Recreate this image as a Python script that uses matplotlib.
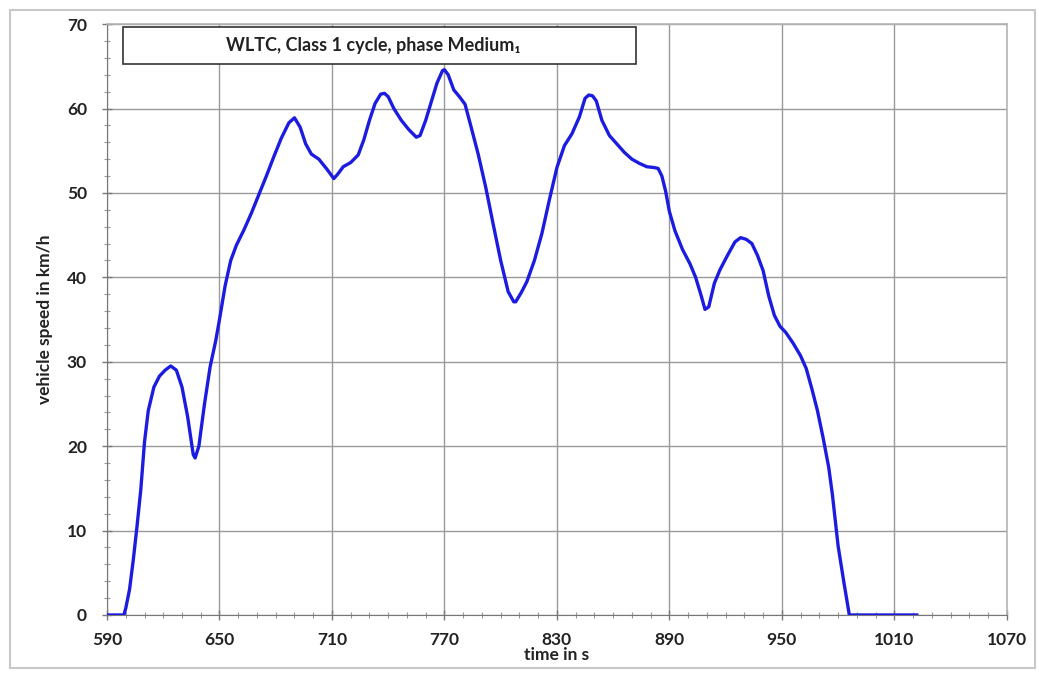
import numpy as np
import matplotlib.pyplot as plt
from matplotlib.patches import Rectangle
from matplotlib.ticker import MultipleLocator

# WLTC class 1, medium phase
time_s = [590, 599, 600, 602, 604, 606, 608, 610, 612, 615, 618, 621, 624,
          627, 630, 633, 636, 637, 639, 642, 645, 648, 650, 653, 656, 659,
          663, 667, 671, 675, 679, 683, 687, 690, 693, 696, 699, 703, 707,
          711, 713, 716, 720, 724, 727, 730, 733, 736, 738, 740, 743, 747,
          751, 755, 757, 760, 763, 766, 769, 770, 772, 775, 778, 781, 784,
          788, 792, 796, 800, 804, 807, 808, 811, 814, 818, 822, 826, 830,
          834, 838, 842, 845, 847, 849, 851, 854, 858, 862, 866, 870, 874,
          878, 882, 884, 886, 888, 890, 893, 897, 901, 904, 907, 909, 911,
          914, 917, 921, 925, 928, 931, 934, 937, 940, 943, 946, 949, 952,
          956, 960, 963, 966, 969, 972, 975, 977, 980, 983, 986, 1000, 1010,
          1022]
speed_kmh = [0, 0, 0.8, 3.0, 6.5, 10.5, 14.8, 20.5, 24.2, 27.0, 28.3, 29.0,
             29.5, 29.0, 27.0, 23.5, 19.0, 18.6, 20.0, 25.0, 29.4, 32.5, 35.0,
             39.0, 42.0, 43.8, 45.6, 47.6, 49.8, 52.0, 54.3, 56.5, 58.3, 58.9,
             57.8, 55.8, 54.6, 54.0, 52.9, 51.7, 52.2, 53.1, 53.6, 54.5, 56.3,
             58.6, 60.6, 61.7, 61.8, 61.4, 60.0, 58.6, 57.5, 56.6, 56.8, 58.6,
             60.8, 63.0, 64.5, 64.6, 64.0, 62.2, 61.4, 60.5, 58.0, 54.6, 50.7,
             46.3, 42.0, 38.3, 37.1, 37.1, 38.2, 39.5, 42.0, 45.2, 49.2, 53.0,
             55.6, 57.0, 59.0, 61.2, 61.6, 61.5, 60.9, 58.6, 56.8, 55.8, 54.8,
             54.0, 53.5, 53.1, 53.0, 52.9, 52.0, 50.2, 47.8, 45.5, 43.3, 41.6,
             40.0, 37.8, 36.2, 36.5, 39.3, 40.9, 42.6, 44.2, 44.7, 44.5, 44.0,
             42.6, 40.8, 37.8, 35.5, 34.2, 33.5, 32.2, 30.7, 29.2, 26.8, 24.2,
             21.0, 17.5, 14.2, 8.2, 4.0, 0, 0, 0, 0]

x_ticks = [590, 650, 710, 770, 830, 890, 950, 1010, 1070]
y_ticks = [0, 10, 20, 30, 40, 50, 60, 70]
title_text = "WLTC, Class 1 cycle, phase Medium\u2081"

fonts = ['Lato', 'DejaVu Sans']
plt.rcParams['font.family'] = fonts

fig = plt.figure(figsize=(10.39, 6.73), dpi=100)
ax = fig.add_axes([0.103, 0.0862, 0.866, 0.878])

ax.plot(time_s, speed_kmh, color='#1c1ce0', linewidth=2.4, zorder=3)

ax.set_xlim(590, 1070)
ax.set_ylim(0, 70)
ax.set_xticks(x_ticks)
ax.set_yticks(y_ticks)
ax.xaxis.set_minor_locator(MultipleLocator(10))
ax.yaxis.set_minor_locator(MultipleLocator(2))
ax.tick_params(which='major', direction='inout', length=7, width=1, color='#777777',
               labelsize=12.5)
ax.tick_params(axis='x', which='major', pad=9)
ax.tick_params(axis='y', which='major', pad=11)
ax.tick_params(which='minor', direction='inout', length=5, width=0.8, color='#999999')
for lbl in ax.get_xticklabels() + ax.get_yticklabels():
    lbl.set_fontweight('bold')
    lbl.set_color('#222222')

ax.grid(True, which='major', color='#9a9a9a', linewidth=1.0)
for side in ['left', 'bottom']:
    ax.spines[side].set_color('#777777')
for side in ['top', 'right']:
    ax.spines[side].set_color('#b5b5b5')
    ax.spines[side].set_linewidth(1.2)

ax.set_xlabel("time in s", fontsize=12.5, fontweight='bold', labelpad=-1, color='#222222')
ax.set_ylabel("vehicle speed in km/h", fontsize=12.5, fontweight='bold', labelpad=10, color='#222222')

# title box inside the plot area
ax.add_patch(Rectangle((0.018, 0.932), 0.57, 0.063, transform=ax.transAxes,
                       facecolor='white', edgecolor='#333333', linewidth=1.2, zorder=4))
ax.text(0.296, 0.9635, title_text, transform=ax.transAxes, ha='center', va='center',
        fontsize=13, fontweight='bold', color='#222222', zorder=5, family=fonts)

# outer chart frame
fig.patches.append(Rectangle((10 / 1039, 5 / 673), 1025 / 1039, 658 / 673,
                             transform=fig.transFigure, fill=False,
                             edgecolor='#c8c8c8', linewidth=1.5))

fig.savefig("out.png", dpi=100)
